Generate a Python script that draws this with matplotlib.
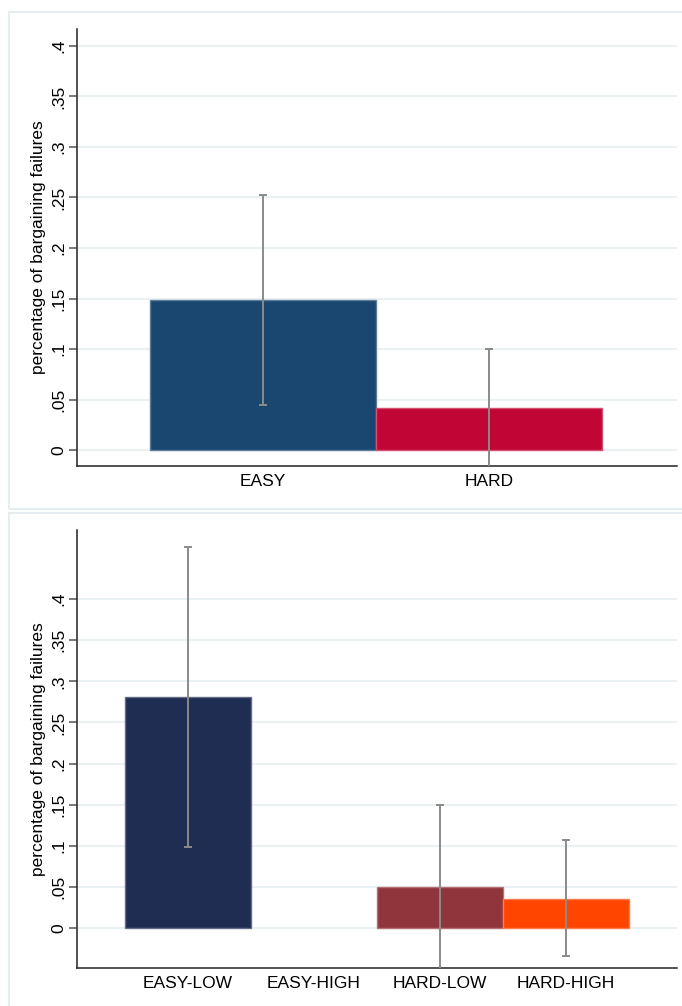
import matplotlib
matplotlib.use("Agg")
import matplotlib.pyplot as plt
import matplotlib.colors as mcolors
from matplotlib.patches import Rectangle

plt.rcParams["font.family"] = ["Liberation Sans", "DejaVu Sans"]

# Panel 1: failure rate by difficulty
top_labels = ["EASY", "HARD"]
top_means = [0.1485, 0.0413]
top_ci_low = [0.0446, -0.020]
top_ci_high = [0.2525, 0.0997]
top_colors = ["#1a476f", "#c10534"]

# Panel 2: failure rate by difficulty and stake
bot_labels = ["EASY-LOW", "EASY-HIGH", "HARD-LOW", "HARD-HIGH"]
bot_means = [0.2805, 0.0, 0.0499, 0.0356]
bot_ci_low = [0.0985, None, -0.060, -0.0344]
bot_ci_high = [0.4629, None, 0.150, 0.1066]
bot_colors = ["#202d53", "#202d53", "#90353b", "#ff4500"]

y_ticks = [0, 0.05, 0.1, 0.15, 0.2, 0.25, 0.3, 0.35, 0.4]
y_tick_text = ["0", ".05", ".1", ".15", ".2", ".25", ".3", ".35", ".4"]

W, H = 682, 1006
fig = plt.figure(figsize=(W / 100, H / 100), dpi=100)

GRID = "#eaf1f3"
FRAME = "#e6edf0"
ERR = "#8a8a8a"
FS = 12.5


def tint(c, amount=0.3):
    r, g, b = mcolors.to_rgb(c)
    return (r + (1 - r) * amount, g + (1 - g) * amount, b + (1 - b) * amount)


def px_axes(left, top, right, bottom):
    return fig.add_axes([left / W, 1 - bottom / H, (right - left) / W, (bottom - top) / H])


def panel_frame(left, top, right, bottom):
    fig.patches.append(Rectangle((left / W, 1 - bottom / H), (right - left) / W,
                                 (bottom - top) / H, transform=fig.transFigure,
                                 fill=False, edgecolor=FRAME, linewidth=1.5, zorder=0))


def style(ax, ylim, xlim, top, bottom):
    ax.set_ylim(*ylim)
    ax.set_xlim(*xlim)
    for s in ("top", "right"):
        ax.spines[s].set_visible(False)
    for s in ("left", "bottom"):
        ax.spines[s].set_color("#222222")
        ax.spines[s].set_linewidth(1.1)
    ax.set_yticks(y_ticks)
    ax.set_yticklabels(y_tick_text, rotation=90, va="center", fontsize=FS)
    ax.tick_params(axis="y", length=6, width=1.1, color="#555555", pad=2)
    ax.tick_params(axis="x", length=0, pad=6, labelsize=FS)
    for y in y_ticks:
        ax.axhline(y, color=GRID, linewidth=1.5, zorder=0)
    fig.text(39 / W, 1 - (top + bottom) / 2 / H, "percentage of bargaining failures",
             rotation=90, ha="center", va="center", fontsize=FS)
    ax.set_facecolor("white")


def draw_bars(ax, xs, values, colors):
    edges = [tint(c) if v != 0 else "none" for v, c in zip(values, colors)]
    ax.bar(xs, values, width=1.0, color=colors, edgecolor=edges, linewidth=1.0, zorder=2)


def draw_errors(ax, xs, lo, hi):
    for x, l, h in zip(xs, lo, hi):
        if l is None:
            continue
        ax.errorbar([x], [(l + h) / 2], yerr=[[(h - l) / 2], [(h - l) / 2]], fmt="none",
                    ecolor=ERR, elinewidth=1.4, capsize=3, capthick=1.4, zorder=4)


# ---- top panel ----
panel_frame(9, 12, 690, 509)
ax1 = px_axes(77, 29, 677, 466)
pos1 = [1, 2]
style(ax1, (-0.0158, 0.4168), (0.177, 2.832), 29, 466)
draw_bars(ax1, pos1, top_means, top_colors)
draw_errors(ax1, pos1, top_ci_low, top_ci_high)
ax1.set_xticks(pos1)
ax1.set_xticklabels(top_labels)

# ---- bottom panel ----
panel_frame(9, 513, 690, 1015)
ax2 = px_axes(77, 530, 677, 968)
pos2 = [1, 2, 3, 4]
style(ax2, (-0.0486, 0.4839), (0.119, 4.881), 530, 968)
draw_bars(ax2, pos2, bot_means, bot_colors)
draw_errors(ax2, pos2, bot_ci_low, bot_ci_high)
ax2.set_xticks(pos2)
ax2.set_xticklabels(bot_labels)

fig.savefig("out.png", dpi=100)
